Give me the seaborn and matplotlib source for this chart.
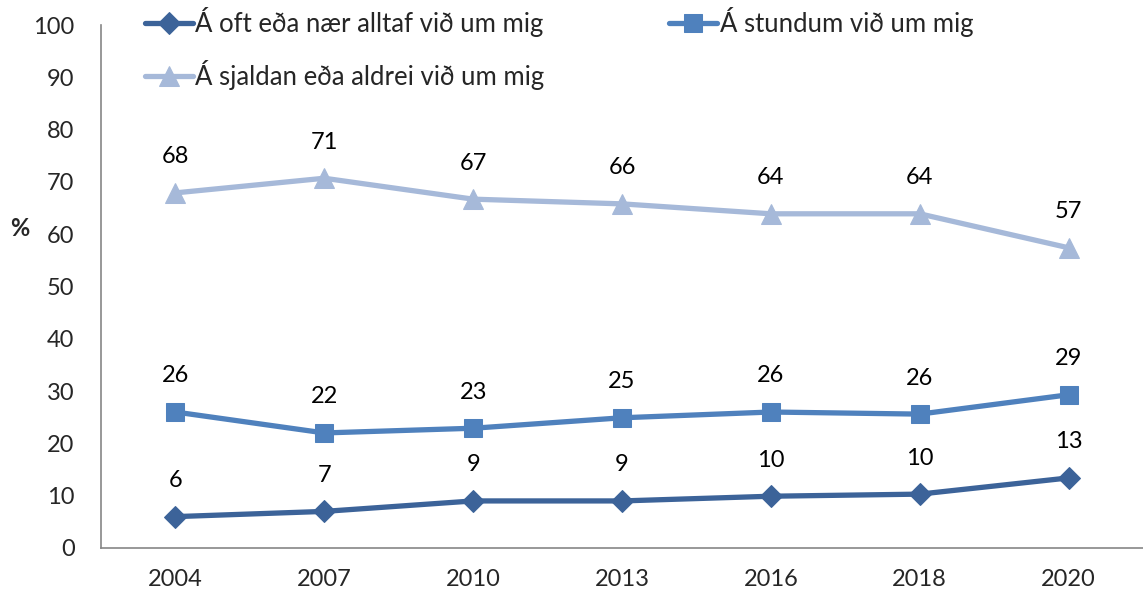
import matplotlib.pyplot as plt
import seaborn as sns
import pandas as pd

years = ["2004", "2007", "2010", "2013", "2016", "2018", "2020"]
often = [6.0, 7.0, 9.0, 9.0, 9.9, 10.3, 13.4]
sometimes = [26.0, 22.0, 22.9, 24.9, 26.0, 25.6, 29.3]
rarely = [67.9, 70.7, 66.7, 65.8, 63.9, 63.9, 57.4]

series_names = ["Á oft eða nær alltaf við um mig",
                "Á stundum við um mig",
                "Á sjaldan eða aldrei við um mig"]

sns.set_style("white")
plt.rcParams['font.family'] = ['Lato', 'DejaVu Sans']

colors = ["#3C6399", "#4F81BD", "#A6B9D9"]
markers = ["D", "s", "^"]
msizes = [11, 13, 14]

fig = plt.figure(figsize=(11.43, 5.95), dpi=100)
ax = fig.add_axes([101 / 1143, 1 - 548 / 595, 1 - 101 / 1143, (548 - 25) / 595])

for name, vals, c, m, ms in zip(series_names, [often, sometimes, rarely], colors, markers, msizes):
    df = pd.DataFrame({"year": years, "value": vals})
    sns.lineplot(data=df, x="year", y="value", ax=ax, color=c, marker=m,
                 markersize=ms, markeredgecolor=c, linewidth=3.8, label=name,
                 sort=False)
    for i, v in enumerate(vals):
        ax.annotate(f"{round(v)}", (i, v), xytext=(0, 26), textcoords="offset points",
                    ha="center", va="center", fontsize=17, color="black")

ax.set_ylim(0, 100)
ax.set_yticks(range(0, 101, 10))
ax.set_xlim(-0.5, len(years) - 0.5)
ax.set_xticks(range(len(years)))
ax.set_xticks([i - 0.5 for i in range(len(years) + 1)], minor=True)
ax.tick_params(axis="x", which="major", length=0, pad=15, labelsize=17)
ax.tick_params(axis="x", which="minor", length=7, width=1.2, color="#868686", direction="out")
ax.tick_params(axis="y", length=7, width=1.2, color="#868686", direction="out", labelsize=17, pad=12)

for s in ["top", "right"]:
    ax.spines[s].set_visible(False)
for s in ["left", "bottom"]:
    ax.spines[s].set_color("#868686")
    ax.spines[s].set_linewidth(1.2)

ax.set_xlabel("")
ax.set_ylabel("%", rotation=0, fontweight="bold", fontsize=17)
ax.yaxis.set_label_coords(-0.078, 0.589)

handles, labels = ax.get_legend_handles_labels()
order = [0, 2, 1]
leg = ax.legend([handles[i] for i in order], [labels[i] for i in order],
                ncol=2, loc="upper left", bbox_to_anchor=(0.042, 1.034),
                frameon=False, fontsize=18.5, handlelength=1.87, handletextpad=0.1,
                columnspacing=4.85, labelspacing=0.9, borderpad=0, borderaxespad=0)

fig.savefig("out.png", dpi=100)
